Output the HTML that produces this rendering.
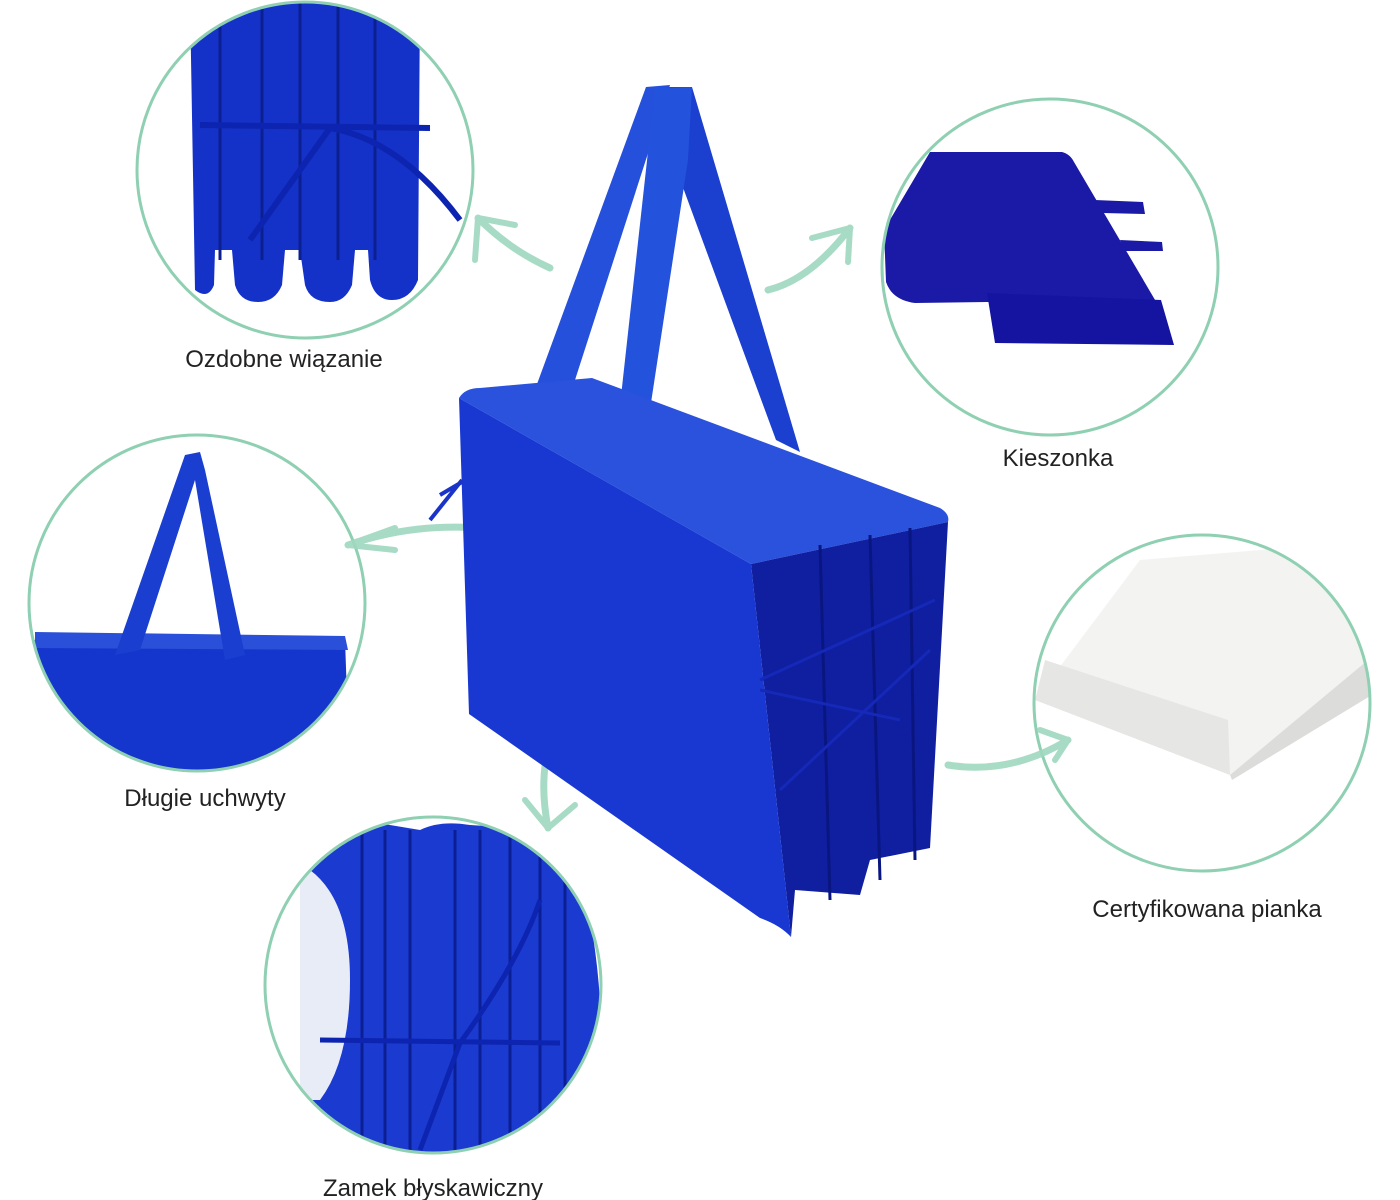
<!DOCTYPE html>
<html><head><meta charset="utf-8"><style>
html,body{margin:0;padding:0;background:#fff;}
svg{display:block}
text{font-family:"Liberation Sans","DejaVu Sans",sans-serif;font-size:24px;fill:#222;}
</style></head><body>
<svg width="1400" height="1200" viewBox="0 0 1400 1200" xmlns="http://www.w3.org/2000/svg">
<defs>
<clipPath id="c1"><circle cx="305" cy="170" r="168"/></clipPath>
<clipPath id="c2"><circle cx="1050" cy="267" r="168"/></clipPath>
<clipPath id="c3"><circle cx="197" cy="603" r="168"/></clipPath>
<clipPath id="c4"><circle cx="1202" cy="703" r="168"/></clipPath>
<clipPath id="c5"><circle cx="433" cy="985" r="168"/></clipPath>
</defs>

<g clip-path="url(#c1)">
<path d="M190 0 L420 0 L418 280 Q410 300 392 300 Q375 300 370 280 L368 250 L355 250 L352 285 Q345 302 330 302 Q310 302 305 285 L300 250 L285 250 L282 285 Q275 302 258 302 Q240 302 235 285 L232 250 L215 250 L214 285 Q208 300 195 290 Z" fill="#1532c8"/>
<g stroke="#0c1f90" stroke-width="3" fill="none">
<line x1="220" y1="0" x2="220" y2="260"/><line x1="262" y1="0" x2="262" y2="260"/><line x1="300" y1="0" x2="300" y2="260"/><line x1="338" y1="0" x2="338" y2="260"/><line x1="375" y1="0" x2="375" y2="260"/>
</g>
<path d="M200 125 L430 128 M330 128 Q400 140 460 220 M330 128 L250 240" stroke="#0d24b0" stroke-width="6" fill="none"/>
</g>
<circle cx="305" cy="170" r="168" fill="none" stroke="#8fd0b2" stroke-width="3"/>

<g clip-path="url(#c2)">
<path d="M930 152 L1062 152 Q1070 154 1074 162 L1158 305 L987 302 L915 303 Q892 300 886 282 L884 230 Z" fill="#1a1aa6"/>
<path d="M987 293 L1161 300 L1174 345 L995 343 Z" fill="#1414a0"/>
<path d="M1095 200 L1143 202 L1145 214 L1103 213 Z M1120 240 L1162 242 L1163 251 L1125 251 Z" fill="#1a1aa6"/>
</g>
<circle cx="1050" cy="267" r="168" fill="none" stroke="#8fd0b2" stroke-width="3"/>

<g clip-path="url(#c3)">
<path d="M30 640 L345 640 L350 780 L30 780 Z" fill="#1536cc"/>
<path d="M35 632 L345 636 L348 650 L35 648 Z" fill="#2a4fd8"/>
<path d="M185 455 L200 452 L205 470 L245 655 L225 660 L195 480 L140 650 L115 655 Z" fill="#1a3fd0"/>
</g>
<circle cx="197" cy="603" r="168" fill="none" stroke="#8fd0b2" stroke-width="3"/>

<g clip-path="url(#c4)">
<path d="M1035 700 L1140 560 L1380 540 L1380 650 L1230 775 Z" fill="#f3f3f1"/>
<path d="M1035 700 L1230 775 L1228 720 L1045 660 Z" fill="#e6e6e4"/>
<path d="M1230 775 L1380 650 L1380 690 L1232 780 Z" fill="#dcdcda"/>
</g>
<circle cx="1202" cy="703" r="168" fill="none" stroke="#8fd0b2" stroke-width="3"/>

<g clip-path="url(#c5)">
<path d="M305 830 Q340 815 360 820 L420 830 Q440 820 470 825 L550 830 Q590 860 600 1000 L600 1160 L300 1160 Z" fill="#1a3ad0"/>
<path d="M310 870 Q350 900 350 980 Q350 1060 320 1100 L300 1100 L300 870 Z" fill="#e8ecf6"/>
<g stroke="#0b1e94" stroke-width="3" fill="none">
<line x1="362" y1="830" x2="362" y2="1150"/><line x1="385" y1="830" x2="385" y2="1150"/><line x1="410" y1="830" x2="410" y2="1150"/><line x1="455" y1="830" x2="455" y2="1150"/><line x1="480" y1="830" x2="480" y2="1150"/><line x1="510" y1="830" x2="510" y2="1150"/><line x1="540" y1="840" x2="540" y2="1150"/><line x1="565" y1="850" x2="565" y2="1150"/>
</g>
<path d="M320 1040 L560 1043 M460 1043 L420 1150 M460 1043 Q520 960 540 900" stroke="#0d24b0" stroke-width="5" fill="none"/>
</g>
<circle cx="433" cy="985" r="168" fill="none" stroke="#8fd0b2" stroke-width="3"/>

<g stroke="#9fd8bf" stroke-linecap="round" fill="none" opacity="0.9">
<path d="M550 268 Q510 250 478 218" stroke-width="7"/><path d="M478 218 L475 260 M478 218 L515 225" stroke-width="6"/>
<path d="M768 290 Q810 280 850 228" stroke-width="7"/><path d="M850 228 L812 238 M850 228 L848 262" stroke-width="6"/>
<path d="M500 530 Q420 520 348 545" stroke-width="7"/><path d="M348 545 L395 528 M348 545 L395 550" stroke-width="6"/>
<path d="M562 718 Q535 760 548 828" stroke-width="7"/><path d="M548 828 L525 800 M548 828 L575 805" stroke-width="6"/>
<path d="M948 765 Q1010 775 1068 740" stroke-width="7"/><path d="M1068 740 L1040 730 M1068 740 L1055 760" stroke-width="6"/>
</g>

<g>
<path d="M646 87 L692 87 L800 452 L776 440 Z" fill="#1b3fcf"/>
<path d="M646 87 L670 85 L575 380 L540 410 L533 395 Z" fill="#2450dc"/>
<path d="M655 88 L692 87 L688 160 L640 475 L612 478 Z" fill="#2352dc"/>
<path d="M459 398 Q465 388 480 388 L592 378 L940 508 Q950 514 948 522 L751 564 Z" fill="#2a52dc"/>
<path d="M751 564 L948 522 L930 848 L870 860 L860 895 L795 890 L791 937 Z" fill="#0f1fa0"/>
<path d="M820 545 L830 900 M870 535 L880 880 M910 528 L915 860" stroke="#0a1680" stroke-width="3" fill="none"/>
<path d="M459 398 L751 564 L791 937 Q780 925 760 918 L469 714 Z" fill="#1938d2"/>
<path d="M760 680 L935 600 M760 690 L900 720 M780 790 L930 650" stroke="#1528b8" stroke-width="3" fill="none"/>
<path d="M462 480 L430 520 M462 482 L440 495" stroke="#1a34c8" stroke-width="4"/>
</g>

<text x="284" y="367" text-anchor="middle">Ozdobne wiązanie</text>
<text x="1058" y="466" text-anchor="middle">Kieszonka</text>
<text x="205" y="806" text-anchor="middle">Długie uchwyty</text>
<text x="1207" y="917" text-anchor="middle">Certyfikowana pianka</text>
<text x="433" y="1196" text-anchor="middle">Zamek błyskawiczny</text>
</svg>
</body></html>
